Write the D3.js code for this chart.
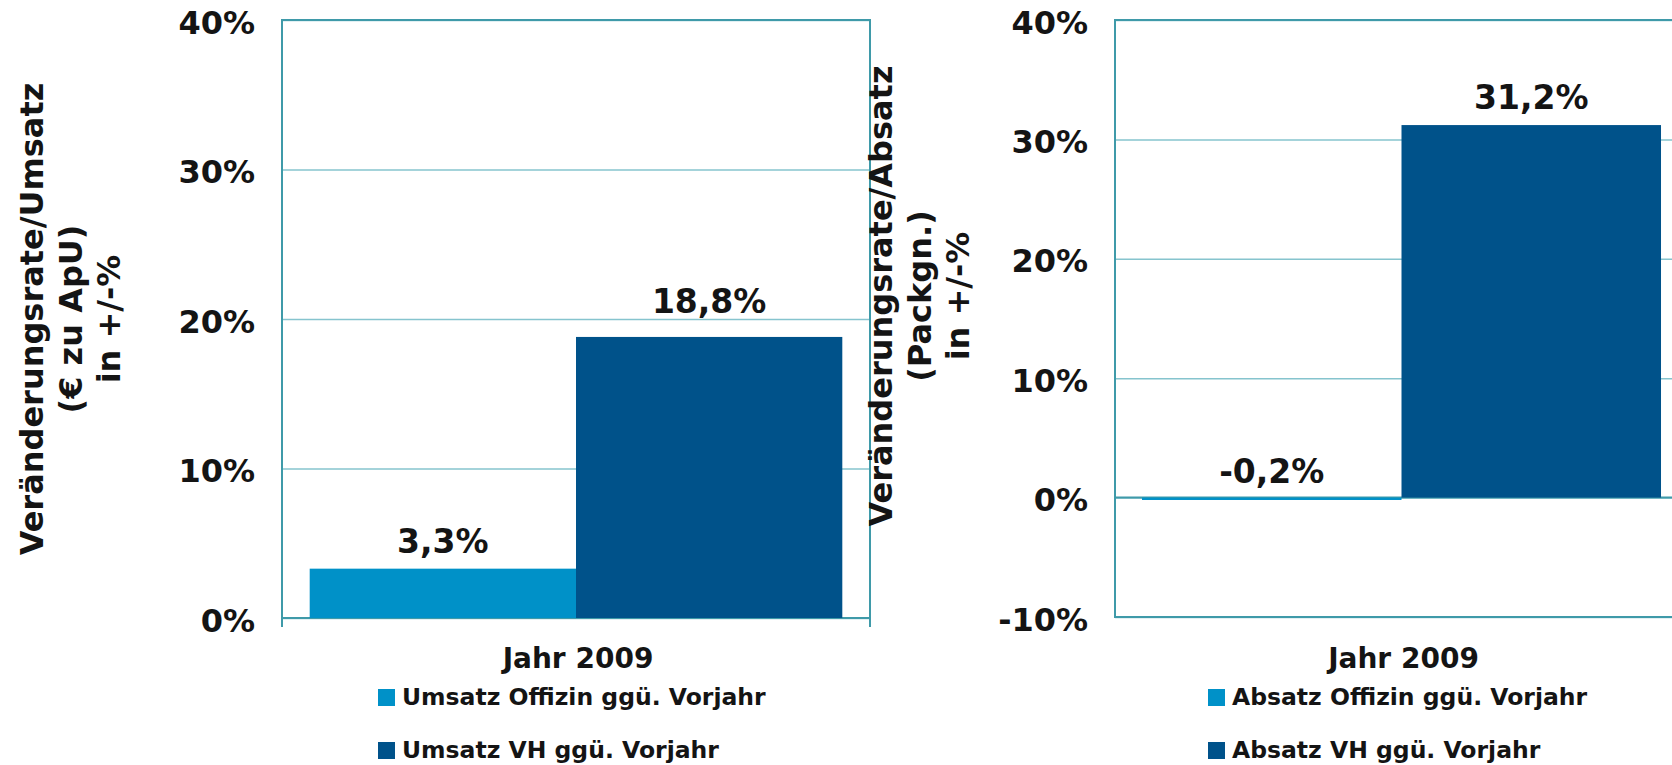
<!DOCTYPE html>
<html>
<head>
<meta charset="utf-8">
<script src="https://cdn.jsdelivr.net/npm/d3@7"></script>
<style>
  body { margin: 0; background: #fff; }
  text { font-family: "DejaVu Sans", Verdana, sans-serif; font-weight: bold; fill: #141414; }
</style>
</head>
<body>
<div id="chart"></div>
<script>
const category = ["Jahr 2009"];

const umsatzSeries = ["Umsatz Offizin ggü. Vorjahr", "Umsatz VH ggü. Vorjahr"];
const umsatzValues = [3.3, 18.8];
const umsatzTicks = [0, 10, 20, 30, 40];
const umsatzTitle = ["Veränderungsrate/Umsatz", "(€ zu ApU)", "in +/-%"];

const absatzSeries = ["Absatz Offizin ggü. Vorjahr", "Absatz VH ggü. Vorjahr"];
const absatzValues = [-0.2, 31.2];
const absatzTicks = [-10, 0, 10, 20, 30, 40];
const absatzTitle = ["Veränderungsrate/Absatz", "(Packgn.)", "in +/-%"];

const colors = ["#0091c8", "#00528a"];
const gridColor = "#86c4ce";
const frameColor = "#3f9aa9";

const width = 1672;
const height = 765;

const locale = d3.formatLocale({ decimal: ",", thousands: ".", grouping: [3], currency: ["", "€"], minus: "-" });
const fmtValue = v => locale.format(".1f")(v) + "%";
const fmtTick = v => locale.format(".0f")(v) + "%";

const svg = d3.select("#chart")
  .append("svg")
  .attr("width", width)
  .attr("height", height);

function drawChart(opt) {
  const g = svg.append("g");
  const x0 = opt.left, x1 = opt.right, yTop = opt.top, yBottom = opt.bottom;

  const y = d3.scaleLinear()
    .domain(d3.extent(opt.ticks))
    .range([yBottom, yTop]);

  const x = d3.scaleBand()
    .domain(category)
    .range([x0, x1])
    .paddingInner(0)
    .paddingOuter(0.052);

  const xs = d3.scaleBand()
    .domain(opt.series)
    .range([0, x.bandwidth()]);

  // gridlines
  g.append("g")
    .attr("transform", `translate(${x0},0)`)
    .call(d3.axisLeft(y).tickValues(opt.ticks).tickSize(-(x1 - x0)).tickFormat(""))
    .call(a => a.select(".domain").remove())
    .call(a => a.selectAll("line").attr("stroke", gridColor).attr("stroke-width", 1.5));

  // tick labels
  g.append("g")
    .attr("transform", `translate(${x0},0)`)
    .call(d3.axisLeft(y).tickValues(opt.ticks).tickSize(0).tickPadding(27).tickFormat(fmtTick))
    .call(a => a.select(".domain").remove())
    .call(a => a.selectAll("text")
      .attr("dy", null)
      .attr("y", 13)
      .style("font-size", "32px")
      .style("font-family", '"DejaVu Sans", Verdana, sans-serif')
      .style("font-weight", "bold")
      .attr("fill", "#141414"));

  // frame
  g.append("rect")
    .attr("x", x0)
    .attr("y", yTop)
    .attr("width", x1 - x0)
    .attr("height", yBottom - yTop)
    .attr("fill", "none")
    .attr("stroke", frameColor)
    .attr("stroke-width", 2);

  // category axis line at zero
  g.append("line")
    .attr("x1", x0).attr("x2", x1)
    .attr("y1", y(0)).attr("y2", y(0))
    .attr("stroke", frameColor)
    .attr("stroke-width", 2);

  g.selectAll(".xtick")
    .data([x0, x1])
    .enter()
    .append("line")
    .attr("x1", d => d).attr("x2", d => d)
    .attr("y1", y(0)).attr("y2", y(0) + 9)
    .attr("stroke", frameColor)
    .attr("stroke-width", 2);

  // bars
  g.selectAll(".bar")
    .data(opt.values)
    .enter()
    .append("rect")
    .attr("x", (d, i) => x(category[0]) + xs(opt.series[i]))
    .attr("y", d => y(Math.max(d, 0)))
    .attr("width", xs.bandwidth())
    .attr("height", d => Math.abs(y(d) - y(0)))
    .attr("fill", (d, i) => colors[i]);

  // value labels
  g.selectAll(".val")
    .data(opt.values)
    .enter()
    .append("text")
    .attr("x", (d, i) => x(category[0]) + xs(opt.series[i]) + xs.bandwidth() / 2)
    .attr("y", (d, i) => y(Math.max(d, 0)) - opt.labelGap[i])
    .attr("text-anchor", "middle")
    .style("font-size", "33px")
    .text(d => fmtValue(d));

  // category label
  g.append("text")
    .attr("x", x(category[0]) + x.bandwidth() / 2 + 2)
    .attr("y", 668)
    .attr("text-anchor", "middle")
    .style("font-size", "28px")
    .text(category[0]);

  // legend
  const leg = g.selectAll(".leg")
    .data(opt.series)
    .enter()
    .append("g")
    .attr("transform", (d, i) => `translate(${opt.legendX},${705 + i * 53})`);

  leg.append("rect")
    .attr("x", 0).attr("y", -16)
    .attr("width", 17).attr("height", 17)
    .attr("fill", (d, i) => colors[i]);

  leg.append("text")
    .attr("x", 24)
    .attr("y", 0)
    .style("font-size", "23.5px")
    .text(d => d);

  // y title
  g.selectAll(".ytitle")
    .data(opt.title)
    .enter()
    .append("text")
    .attr("transform", (d, i) => `translate(${opt.titleX + i * 38.5},${opt.titleY}) rotate(-90)`)
    .attr("text-anchor", "middle")
    .style("font-size", "32px")
    .text(d => d);
}

drawChart({
  series: umsatzSeries, values: umsatzValues, ticks: umsatzTicks, title: umsatzTitle,
  left: 282, right: 870, top: 20, bottom: 618,
  labelGap: [16, 24], legendX: 378, titleX: 43, titleY: 319
});

drawChart({
  series: absatzSeries, values: absatzValues, ticks: absatzTicks, title: absatzTitle,
  left: 1115, right: 1688, top: 20, bottom: 617,
  labelGap: [15, 16], legendX: 1208, titleX: 892, titleY: 296
});
</script>
</body>
</html>
